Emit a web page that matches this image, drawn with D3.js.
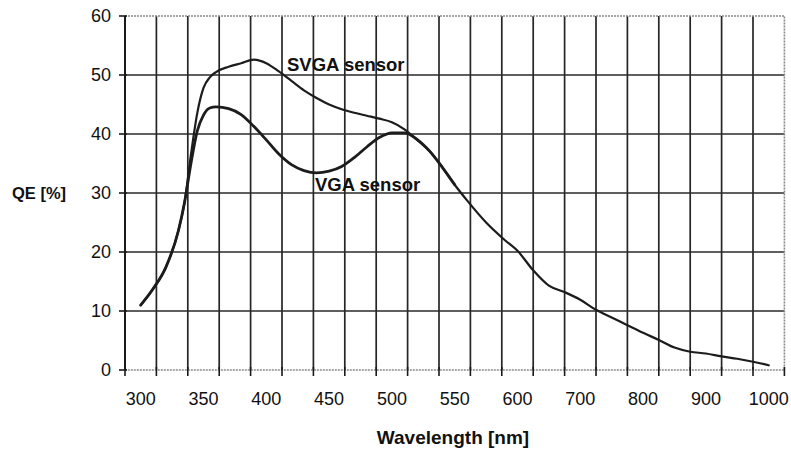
<!DOCTYPE html>
<html>
<head>
<meta charset="utf-8">
<script src="https://cdn.jsdelivr.net/npm/d3@7"></script>
<style>
  html, body { margin: 0; padding: 0; background: #fff; }
  svg { display: block; }
  text { font-family: Arial, "Liberation Sans", sans-serif; fill: #111; }
</style>
</head>
<body>
<div id="chart"></div>
<script>
// Category axis (Excel-style): 25 nm steps up to 600, then 50 nm steps
const categories = ["300","325","350","375","400","425","450","475","500","525","550","575","600",
                    "650","700","750","800","850","900","950","1000"];
const xTickLabels = ["300","350","400","450","500","550","600","700","800","900","1000"];
const yTicks = [0, 10, 20, 30, 40, 50, 60];

// SVGA sensor QE [%]
const svgaWavelength = [300,310,320,330,335,340,345,350,355,360,370,380,390,400,410,420,430,440,450,460,470,480,490,500,510,520,530,540,550,560,575,590,600,625,650,675,700,725,750,775,800,825,850,875,900,925,950,975,1000];
const svgaQE =         [11.0,13.8,17.4,23.6,28.5,36.5,43.5,47.8,49.6,50.5,51.4,52.0,52.6,52.0,50.6,49.0,47.4,46.1,45.0,44.2,43.6,43.1,42.6,42.0,40.8,39.0,37.1,34.4,31.4,28.7,25.0,22.0,20.2,16.9,14.3,13.2,11.9,10.2,8.9,7.6,6.3,5.1,3.8,3.1,2.8,2.3,1.9,1.4,0.8];

// VGA sensor QE [%]
const vgaWavelength = [300,310,320,330,335,340,345,350,355,360,370,380,390,400,410,420,430,440,450,460,470,480,490,500,510,520,530,540,550];
const vgaQE =         [11.0,13.8,17.4,23.6,28.5,35.0,40.5,43.2,44.4,44.6,44.3,43.3,41.3,39.0,36.6,34.8,33.8,33.4,33.7,34.5,36.0,37.8,39.4,40.2,40.2,39.1,37.1,34.4,31.4];

const W = 791, H = 449;
const pLeft = 125, pRight = 784.4, pTop = 16, pBottom = 370;

const svg = d3.select("#chart").append("svg").attr("width", W).attr("height", H);

const band = d3.scaleBand().domain(categories).range([pLeft, pRight]).padding(0);
const bw = band.bandwidth();
const cx = c => band(c) + bw / 2;
const x = d3.scaleLinear().domain([300, 600, 1000]).range([cx("300"), cx("600"), cx("1000")]);
const y = d3.scaleLinear().domain([0, 60]).range([pBottom, pTop]);

// Vertical gridlines at category boundaries
const boundaries = categories.map(c => band(c)).concat([pRight]);
svg.append("g").selectAll("line").data(boundaries.slice(1, -1)).join("line")
  .attr("x1", d => d).attr("x2", d => d).attr("y1", pTop).attr("y2", pBottom)
  .attr("stroke", "#262626").attr("stroke-width", 1.7);

// Horizontal gridlines
svg.append("g").selectAll("line").data(yTicks.filter(v => v > 0 && v < 60)).join("line")
  .attr("x1", pLeft).attr("x2", pRight).attr("y1", d => y(d)).attr("y2", d => y(d))
  .attr("stroke", "#2a2a2a").attr("stroke-width", 1.6);

// Plot border (top, right, bottom) - grey dotted
svg.append("path")
  .attr("d", `M${pLeft},${pTop}H${pRight}V${pBottom}H${pLeft}`)
  .attr("fill", "none").attr("stroke", "#8a8a8a").attr("stroke-width", 1.6)
  .attr("stroke-dasharray", "2,1");

// Left axis
svg.append("line").attr("x1", pLeft).attr("x2", pLeft).attr("y1", pTop).attr("y2", pBottom)
  .attr("stroke", "#1a1a1a").attr("stroke-width", 2);

// Y ticks + labels
const yAxis = svg.append("g");
yAxis.selectAll("line").data(yTicks).join("line")
  .attr("x1", pLeft - 6).attr("x2", pLeft + 2).attr("y1", d => y(d)).attr("y2", d => y(d))
  .attr("stroke", "#1a1a1a").attr("stroke-width", 1.6);
yAxis.selectAll("text").data(yTicks).join("text")
  .attr("x", 111).attr("y", d => y(d)).attr("dy", "0.36em")
  .attr("text-anchor", "end").style("font-size", "18px").text(d => d);

// X ticks
const xAxis = svg.append("g");
xAxis.selectAll("line").data(boundaries).join("line")
  .attr("x1", d => d).attr("x2", d => d).attr("y1", pBottom - 3).attr("y2", pBottom + 6)
  .attr("stroke", "#1a1a1a").attr("stroke-width", 1.6);
xAxis.selectAll("text").data(xTickLabels).join("text")
  .attr("x", d => cx(d)).attr("y", 405)
  .attr("text-anchor", "middle").style("font-size", "18px").text(d => d);

// Axis titles
svg.append("text").attr("x", 453).attr("y", 444)
  .attr("text-anchor", "middle").style("font-size", "19px").style("font-weight", "bold")
  .text("Wavelength [nm]");
svg.append("text").attr("x", 12).attr("y", y(30)).attr("dy", "0.36em")
  .style("font-size", "16.5px").style("font-weight", "bold").text("QE [%]");

// Curves
const line = d3.line().x(d => x(d[0])).y(d => y(d[1])).curve(d3.curveMonotoneX);
svg.append("path")
  .datum(svgaWavelength.map((w, i) => [w, svgaQE[i]]))
  .attr("d", line).attr("fill", "none").attr("stroke", "#1c1c1c").attr("stroke-width", 2.2)
  .attr("stroke-linejoin", "round").attr("stroke-linecap", "round");
svg.append("path")
  .datum(vgaWavelength.map((w, i) => [w, vgaQE[i]]))
  .attr("d", line).attr("fill", "none").attr("stroke", "#1c1c1c").attr("stroke-width", 2.8)
  .attr("stroke-linejoin", "round").attr("stroke-linecap", "round");

// Series labels
svg.append("text").attr("x", 287).attr("y", 71)
  .style("font-size", "18.5px").style("font-weight", "bold").text("SVGA sensor");
svg.append("text").attr("x", 315).attr("y", 191)
  .style("font-size", "18.5px").style("font-weight", "bold").text("VGA sensor");
</script>
</body>
</html>
